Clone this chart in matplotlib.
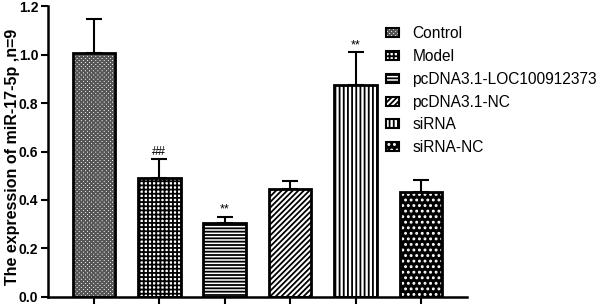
import numpy as np
import matplotlib.pyplot as plt

plt.rcParams['font.family'] = ['Liberation Sans', 'DejaVu Sans']
plt.rcParams['hatch.linewidth'] = 1.3

# Data
groups = ['Control', 'Model', 'pcDNA3.1-LOC100912373', 'pcDNA3.1-NC', 'siRNA', 'siRNA-NC']
means = [1.006, 0.491, 0.303, 0.445, 0.875, 0.434]
errors = [0.140, 0.079, 0.027, 0.035, 0.135, 0.050]
marks = ['', '##', '**', '', '**', '']
hatches = ['xxxxxxxx', '++++', '-----', '//////', '||||', '...']
faces = ['white', 'white', 'white', 'white', 'white', 'black']
hatch_colors = ['#555555', 'black', 'black', 'black', 'black', 'white']

fig = plt.figure(figsize=(6, 3.08), dpi=100)
ax = fig.add_axes([0.08, 0.036, 0.698, 0.944])

x = np.arange(len(groups))
handles = []
for i in range(len(groups)):
    # filled + hatched body
    ax.bar(x[i], means[i], width=0.65, color=faces[i], edgecolor=hatch_colors[i],
           hatch=hatches[i], linewidth=0, zorder=2)
    # black outline on top
    ax.bar(x[i], means[i], width=0.65, facecolor='none', edgecolor='black',
           linewidth=2, zorder=3)
    ax.errorbar(x[i], means[i], yerr=[[0], [errors[i]]], fmt='none', ecolor='black',
                elinewidth=1.5, capsize=5.5, capthick=1.5, zorder=1)
    if marks[i]:
        ax.text(x[i], means[i] + errors[i] + 0.005, marks[i], ha='center', va='bottom',
                fontsize=9)
    proxy = plt.Rectangle((0, 0), 1, 1, facecolor=faces[i], edgecolor=hatch_colors[i],
                          hatch=hatches[i], linewidth=0)
    frame = plt.Rectangle((0, 0), 1, 1, facecolor='none', edgecolor='black', linewidth=1.5)
    handles.append((proxy, frame))

ax.set_xlim(-0.7, 5.7)
ax.set_ylim(0, 1.2)
ticks = np.arange(0, 1.21, 0.2)
ax.set_yticks(ticks)
ax.set_yticklabels([f'{v:.1f}' for v in ticks], fontweight='bold', fontsize=10)
ax.set_xticks(x)
ax.set_xticklabels([])
ax.tick_params(axis='both', direction='out', width=1.5, length=5, pad=2)
for s in ['top', 'right']:
    ax.spines[s].set_visible(False)
for s in ['left', 'bottom']:
    ax.spines[s].set_linewidth(1.8)
ax.set_ylabel('The expression of miR-17-5p ,n=9', fontweight='bold', fontsize=11.5)
ax.yaxis.set_label_coords(-0.066, 0.48)

fig.legend(handles, groups, loc='upper left', bbox_to_anchor=(0.62, 0.96), frameon=False,
           fontsize=11.2, handlelength=0.85, handleheight=0.5, handletextpad=0.85,
           labelspacing=0.5)

fig.savefig('out.png', dpi=100)
